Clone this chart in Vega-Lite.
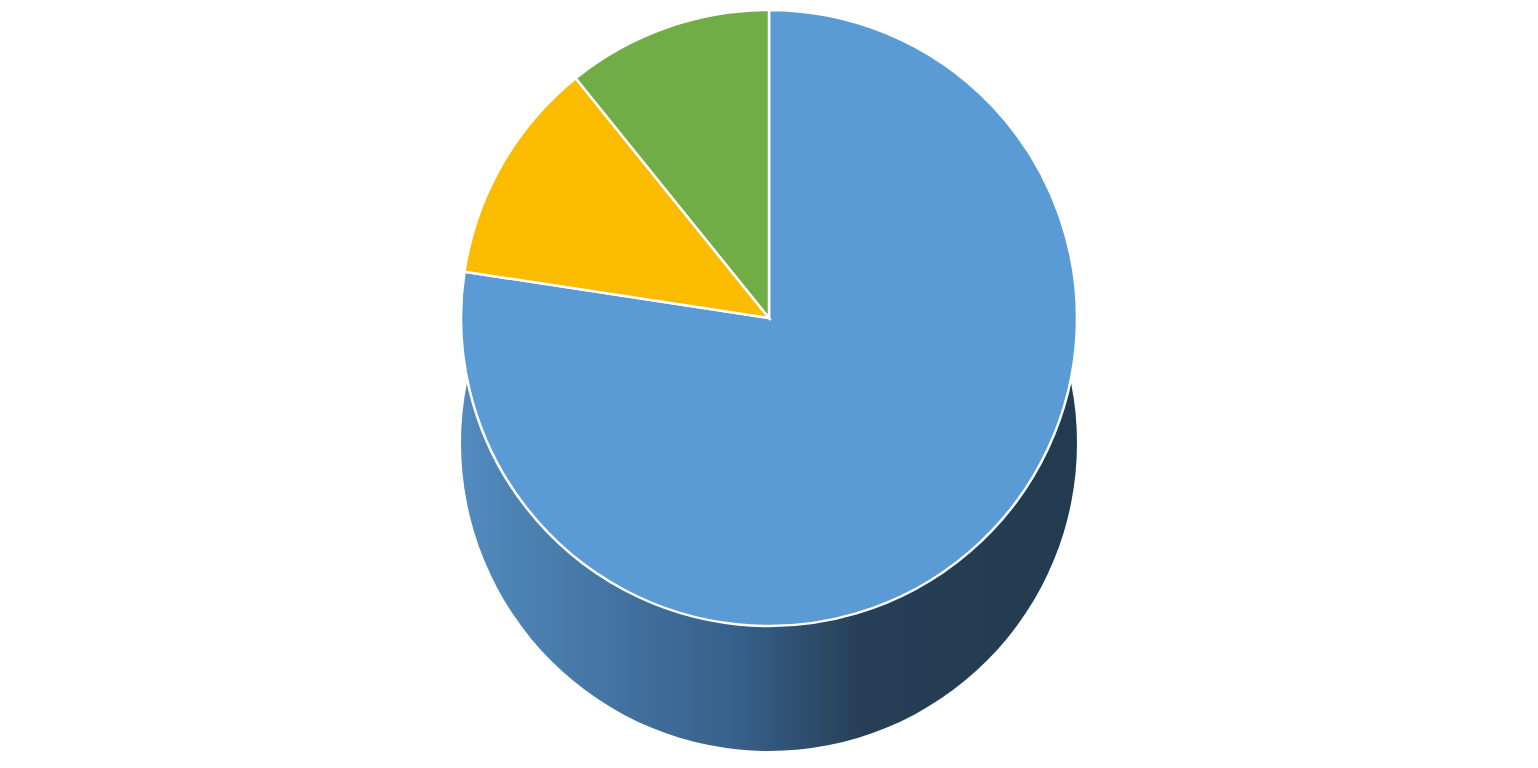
{
  "$schema": "https://vega.github.io/schema/vega-lite/v6.json",
  "width": 1538,
  "height": 768,
  "autosize": {"type": "fit", "contains": "padding"},
  "background": "white",
  "view": {"stroke": null},
  "datasets": {
    "slices": [
      {"category": "Blue", "value": 77.4, "order": 1},
      {"category": "Yellow", "value": 11.8, "order": 2},
      {"category": "Green", "value": 10.8, "order": 3}
    ]
  },
  "layer": [
    {
      "data": {"name": "slices"},
      "transform": [{"aggregate": [{"op": "sum", "field": "value", "as": "total"}]}],
      "mark": {
        "type": "arc",
        "outerRadius": 308,
        "yOffset": 59,
        "stroke": null,
        "color": {
          "gradient": "linear",
          "x1": 0, "y1": 0, "x2": 1, "y2": 0,
          "stops": [
            {"offset": 0, "color": "#528BBE"},
            {"offset": 0.45, "color": "#36608A"},
            {"offset": 0.65, "color": "#273F56"},
            {"offset": 1, "color": "#233B50"}
          ]
        }
      },
      "encoding": {
        "theta": {"field": "total", "type": "quantitative"}
      }
    },
    {
      "data": {"name": "slices"},
      "mark": {"type": "arc", "outerRadius": 308, "yOffset": -66, "stroke": "white", "strokeWidth": 2.5},
      "encoding": {
        "theta": {"field": "value", "type": "quantitative", "stack": true},
        "order": {"field": "order", "type": "quantitative"},
        "color": {
          "field": "category",
          "type": "nominal",
          "scale": {"domain": ["Blue", "Yellow", "Green"], "range": ["#5B9BD5", "#FBBC00", "#70AD47"]},
          "legend": null
        }
      }
    }
  ]
}
